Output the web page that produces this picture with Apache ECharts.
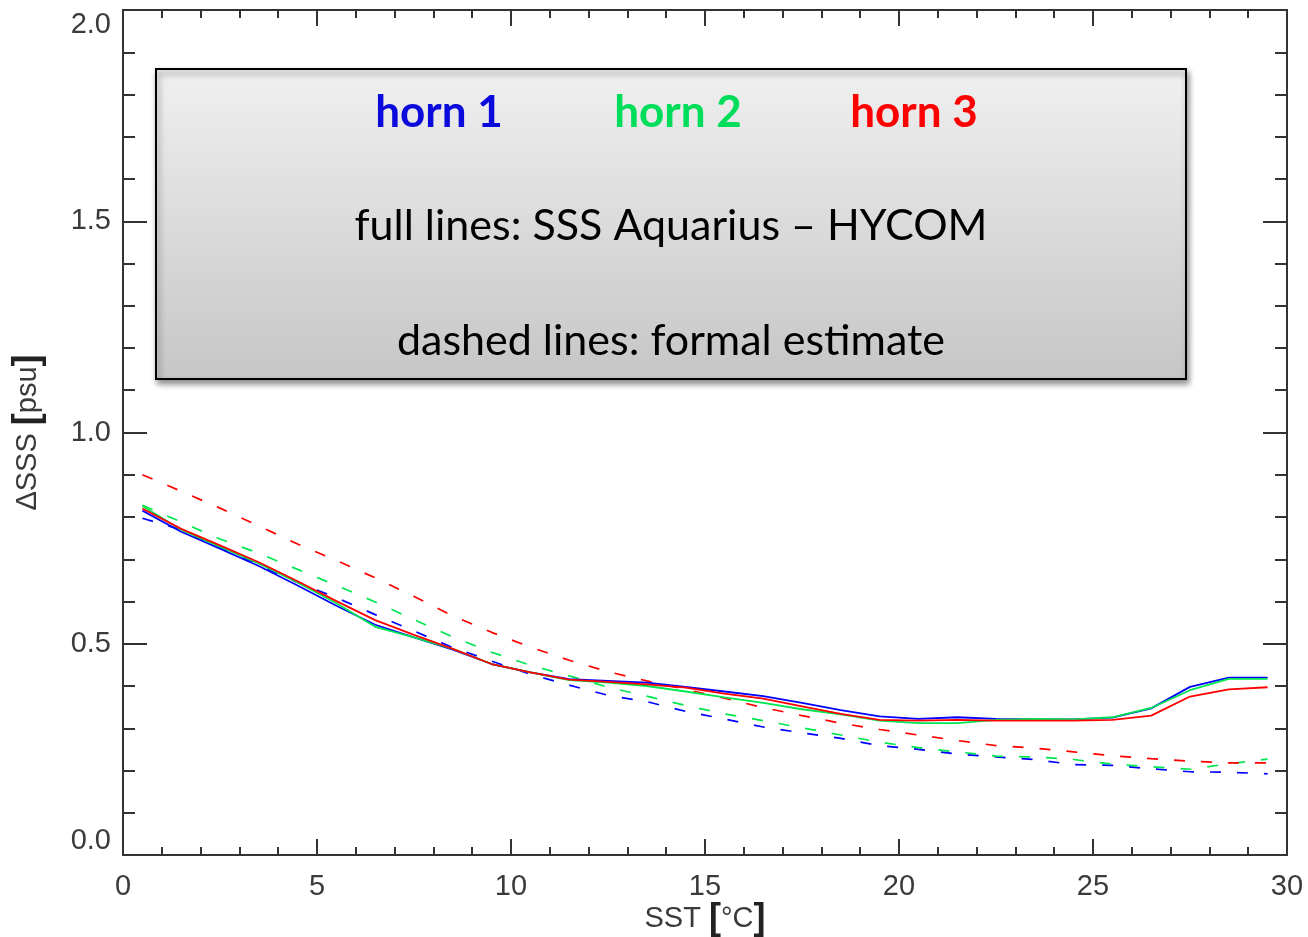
<!DOCTYPE html>
<html>
<head>
<meta charset="utf-8">
<title>SSS error vs SST</title>
<script src="https://cdn.jsdelivr.net/npm/echarts@6/dist/echarts.min.js"></script>
<style>
    body { margin: 0; background: #fff; }
    #myChart { width: 1308px; height: 937px; }
</style>
</head>
<body>
<div id="myChart"></div>
<script>
    // SST bin centres (°C)
    const sst = [0.5, 1.5, 2.5, 3.5, 4.5, 5.5, 6.5, 7.5, 8.5, 9.5,
        10.5, 11.5, 12.5, 13.5, 14.5, 15.5, 16.5, 17.5, 18.5, 19.5,
        20.5, 21.5, 22.5, 23.5, 24.5, 25.5, 26.5, 27.5, 28.5, 29.5];

    // full lines: SSS Aquarius - HYCOM
    const h1Full = [0.815, 0.765, 0.725, 0.684, 0.638, 0.590, 0.545, 0.515, 0.486, 0.452,
        0.432, 0.416, 0.412, 0.408, 0.398, 0.387, 0.376, 0.360, 0.343, 0.328,
        0.322, 0.326, 0.322, 0.321, 0.321, 0.325, 0.347, 0.398, 0.420, 0.420];
    const h2Full = [0.826, 0.770, 0.730, 0.690, 0.645, 0.596, 0.540, 0.515, 0.488, 0.452,
        0.432, 0.414, 0.408, 0.400, 0.387, 0.373, 0.360, 0.345, 0.333, 0.318,
        0.312, 0.312, 0.320, 0.322, 0.321, 0.326, 0.348, 0.390, 0.417, 0.417];
    const h3Full = [0.820, 0.772, 0.733, 0.693, 0.648, 0.601, 0.556, 0.521, 0.488, 0.452,
        0.432, 0.415, 0.410, 0.404, 0.396, 0.382, 0.370, 0.352, 0.334, 0.320,
        0.318, 0.320, 0.318, 0.318, 0.318, 0.320, 0.330, 0.375, 0.392, 0.397];

    // dashed lines: formal estimate
    const h1Formal = [0.797, 0.770, 0.728, 0.686, 0.645, 0.609, 0.569, 0.530, 0.491, 0.459,
        0.428, 0.402, 0.378, 0.363, 0.340, 0.322, 0.303, 0.289, 0.276, 0.259,
        0.250, 0.239, 0.232, 0.226, 0.214, 0.212, 0.204, 0.197, 0.196, 0.192];
    const h2Formal = [0.828, 0.788, 0.748, 0.714, 0.676, 0.638, 0.599, 0.557, 0.516, 0.480,
        0.449, 0.424, 0.397, 0.376, 0.354, 0.334, 0.318, 0.301, 0.284, 0.267,
        0.254, 0.244, 0.234, 0.232, 0.226, 0.215, 0.209, 0.203, 0.216, 0.227];
    const h3Formal = [0.900, 0.861, 0.821, 0.779, 0.736, 0.697, 0.656, 0.612, 0.566, 0.527,
        0.492, 0.461, 0.434, 0.412, 0.392, 0.371, 0.349, 0.330, 0.312, 0.297,
        0.284, 0.271, 0.259, 0.253, 0.244, 0.235, 0.228, 0.222, 0.218, 0.218];

    const hornNames = ['horn 1', 'horn 2', 'horn 3'];
    const hornColors = ['#0000ff', '#00e650', '#ff0000'];

    function pairs(ys) {
        return sst.map(function (x, i) { return [x, ys[i]]; });
    }

    const axisColor = '#333';
    const labelFont = 'Liberation Sans';

    const chart = echarts.init(document.getElementById('myChart'));

    const fullSets = [h1Full, h2Full, h3Full];
    const formalSets = [h1Formal, h2Formal, h3Formal];
    const series = [];
    formalSets.forEach(function (ys, i) {
        series.push({
            name: hornNames[i] + ' formal',
            type: 'line',
            data: pairs(ys),
            showSymbol: false,
            lineStyle: { color: hornColors[i], width: 1.7, type: [11, 16] },
            silent: true
        });
    });
    fullSets.forEach(function (ys, i) {
        series.push({
            name: hornNames[i],
            type: 'line',
            data: pairs(ys),
            showSymbol: false,
            lineStyle: { color: hornColors[i], width: 1.8 },
            silent: true
        });
    });

    // frame axis (top / right): ticks only
    function frameAxis(base) {
        return Object.assign({
            type: 'value',
            axisLine: { show: true, onZero: false, lineStyle: { color: axisColor, width: 2 } },
            splitLine: { show: false },
            axisLabel: { show: false }
        }, base);
    }

    const xTicks = {
        axisTick: { show: true, inside: true, length: 16, lineStyle: { color: axisColor, width: 2 } },
        minorTick: { show: true, splitNumber: 5, length: 8, lineStyle: { color: axisColor, width: 2 } }
    };
    const yTicks = {
        axisTick: { show: true, inside: true, length: 24, lineStyle: { color: axisColor, width: 2 } },
        minorTick: { show: true, splitNumber: 5, length: 12, lineStyle: { color: axisColor, width: 2 } }
    };

    const option = {
        animation: false,
        grid: { left: 123, right: 21, top: 10, bottom: 82, outerBoundsMode: 'none', containLabel: false },
        xAxis: [frameAxis(Object.assign({
            min: 0, max: 30, interval: 5,
            position: 'bottom',
            name: 'SST {b|[}°C{b|]}',
            nameLocation: 'middle',
            nameGap: 46,
            nameMoveOverlap: false,
            nameTextStyle: {
                fontFamily: labelFont, fontSize: 29, color: '#3a3a3a',
                rich: { b: { fontFamily: labelFont, fontSize: 36, fontWeight: 'bold', color: '#222' } }
            },
            axisLabel: { show: true, margin: 17, fontFamily: labelFont, fontSize: 29, color: '#3a3a3a' }
        }, xTicks)), frameAxis(Object.assign({
            min: 0, max: 30, interval: 5,
            position: 'top'
        }, xTicks))],
        yAxis: [frameAxis(Object.assign({
            min: 0, max: 2, interval: 0.5,
            position: 'left',
            name: 'ΔSSS {b|[}psu{b|]}',
            nameLocation: 'middle',
            nameGap: 77,
            nameMoveOverlap: false,
            nameTextStyle: {
                fontFamily: labelFont, fontSize: 29, color: '#3a3a3a',
                rich: { b: { fontFamily: labelFont, fontSize: 36, fontWeight: 'bold', color: '#222' } }
            },
            axisLabel: {
                show: true, margin: 12, fontFamily: labelFont, fontSize: 29, color: '#3a3a3a',
                formatter: function (v) { return v.toFixed(1); },
                verticalAlignMinLabel: 'bottom',
                verticalAlignMaxLabel: 'top'
            }
        }, yTicks)), frameAxis(Object.assign({
            min: 0, max: 2, interval: 0.5,
            position: 'right'
        }, yTicks))],
        graphic: [{
            type: 'group',
            left: 155,
            top: 68,
            children: [{
                type: 'rect',
                shape: { x: 0, y: 0, width: 1030, height: 310 },
                style: {
                    fill: new echarts.graphic.LinearGradient(0, 0, 0, 1, [
                        { offset: 0, color: '#f0f0f0' },
                        { offset: 1, color: '#c6c6c6' }
                    ]),
                    stroke: '#000',
                    lineWidth: 2,
                    shadowBlur: 6,
                    shadowOffsetX: 2,
                    shadowOffsetY: 4,
                    shadowColor: 'rgba(0,0,0,0.45)'
                }
            }, {
                type: 'text', x: 283, y: 44,
                style: { text: hornNames[0], fill: '#0a0adc', font: 'bold 44px Lato', textAlign: 'center', textVerticalAlign: 'middle' }
            }, {
                type: 'text', x: 522, y: 44,
                style: { text: hornNames[1], fill: '#00dd5a', font: 'bold 44px Lato', textAlign: 'center', textVerticalAlign: 'middle' }
            }, {
                type: 'text', x: 758, y: 44,
                style: { text: hornNames[2], fill: '#ff0000', font: 'bold 44px Lato', textAlign: 'center', textVerticalAlign: 'middle' }
            }, {
                type: 'text', x: 515, y: 157,
                style: { text: 'full lines: SSS Aquarius – HYCOM', fill: '#000', font: '43px Lato', textAlign: 'center', textVerticalAlign: 'middle' }
            }, {
                type: 'text', x: 515, y: 272,
                style: { text: 'dashed lines: formal estimate', fill: '#000', font: '43px Lato', textAlign: 'center', textVerticalAlign: 'middle' }
            }]
        }],
        series: series
    };

    chart.setOption(option);
</script>
</body>
</html>
